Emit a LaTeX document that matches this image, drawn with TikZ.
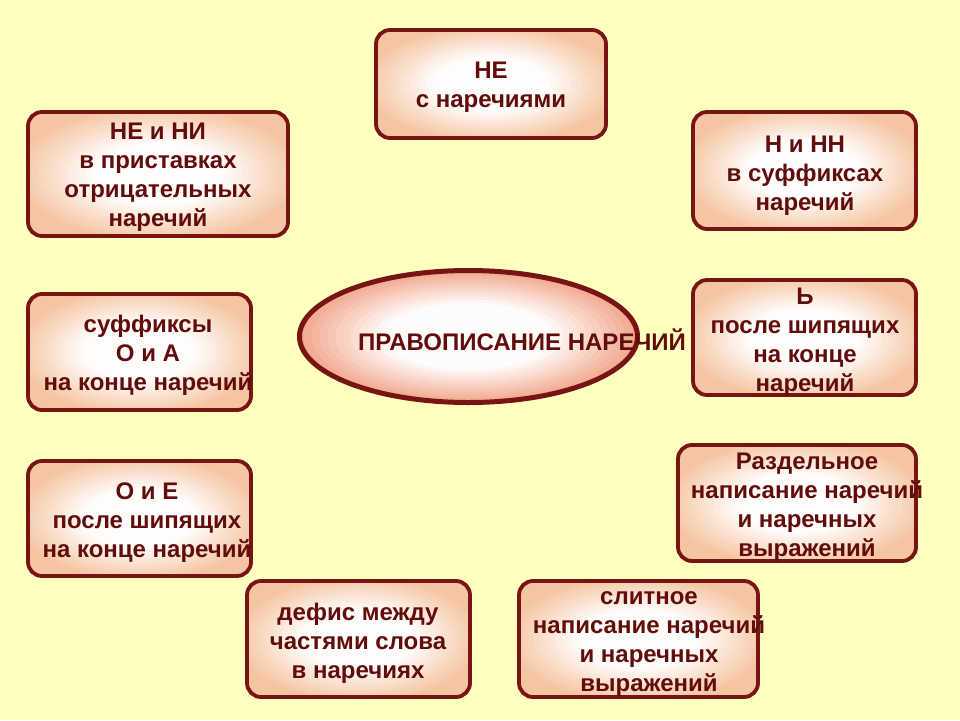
\documentclass[tikz,border=0pt]{standalone}
\usepackage{fontspec}
\setmainfont{Liberation Sans}
\usetikzlibrary{shapes.geometric}
\definecolor{bg}{HTML}{FFFFC0}
\definecolor{bord}{HTML}{781414}
\definecolor{txt}{HTML}{620C0C}
\definecolor{peach}{HTML}{F5C4A0}
\definecolor{salmon}{HTML}{EF9676}
\tikzset{
  gradfill/.style n args={3}{path picture={
    \foreach \i in {0,...,31}{
      \pgfmathsetmacro\rr{1.48-\i*0.046}
      \pgfmathtruncatemacro\mm{100*max(0,min(0.97,(1.12-\rr)/0.62))}
      \pgfmathsetmacro\rx{\rr*#1/2}
      \pgfmathsetmacro\ry{\rr*#2/2}
      \fill[white!\mm!#3] (path picture bounding box.center) ellipse[x radius=\rx pt, y radius=\ry pt];
    }}},
  box/.style 2 args={draw=bord, line width=3.8pt, rounded corners=14pt, inner sep=0pt,
    minimum width=#1pt, minimum height=#2pt, fill=peach, gradfill={#1}{#2}{peach}},
  oval/.style 2 args={ellipse, draw=bord, line width=5pt, inner sep=0pt,
    minimum width=#1pt, minimum height=#2pt, fill=salmon, gradfill={#1}{#2}{salmon}},
  lbl/.style={text=txt, font=\bfseries\fontsize{24}{29}\selectfont, align=center, inner sep=0pt},
}
\begin{document}
\begin{tikzpicture}[x=1pt,y=-1pt]
\useasboundingbox (0,0) rectangle (960,720);
\fill[bg] (0,0) rectangle (960,720);
% boxes
\node[box={230}{108}] (b1) at (491,84) {};
\node[box={260}{124}] (b2) at (158,174) {};
\node[box={223}{117}] (b3) at (804.5,170.5) {};
\node[box={223}{116}] (b4) at (139.5,352) {};
\node[box={223}{115}] (b5) at (804.5,337.5) {};
\node[box={223}{115}] (b6) at (139.5,518.5) {};
\node[box={238}{116}] (b7) at (797,503) {};
\node[box={223}{116}] (b8) at (358.5,639) {};
\node[box={239}{116}] (b9) at (638.5,639) {};
\node[oval={338}{132}] (c) at (468.5,336.5) {};
% texts
\node[lbl] (t1) at (491,87) {НЕ\\с наречиями};
\node[lbl] (t2) at (158,177) {НЕ и НИ\\в приставках\\отрицательных\\наречий};
\node[lbl] (t3) at (805,175.5) {Н и НН\\в суффиксах\\наречий};
\node[lbl] (t4) at (148,355.5) {суффиксы\\О и А\\на конце наречий};
\node[lbl] (t5) at (805,342.5) {Ь\\после шипящих\\на конце\\наречий};
\node[lbl] (t6) at (147,522.5) {О и Е\\после шипящих\\на конце наречий};
\node[lbl] (t7) at (807,507.5) {Раздельное\\написание наречий\\и наречных\\выражений};
\node[lbl] (t8) at (358,643.5) {дефис между\\частями слова\\в наречиях};
\node[lbl] (t9) at (649,644.5) {слитное\\написание наречий\\и наречных\\выражений};
\node[lbl] (tc) at (522,340) {ПРАВОПИСАНИЕ НАРЕЧИЙ};
\end{tikzpicture}
\end{document}
